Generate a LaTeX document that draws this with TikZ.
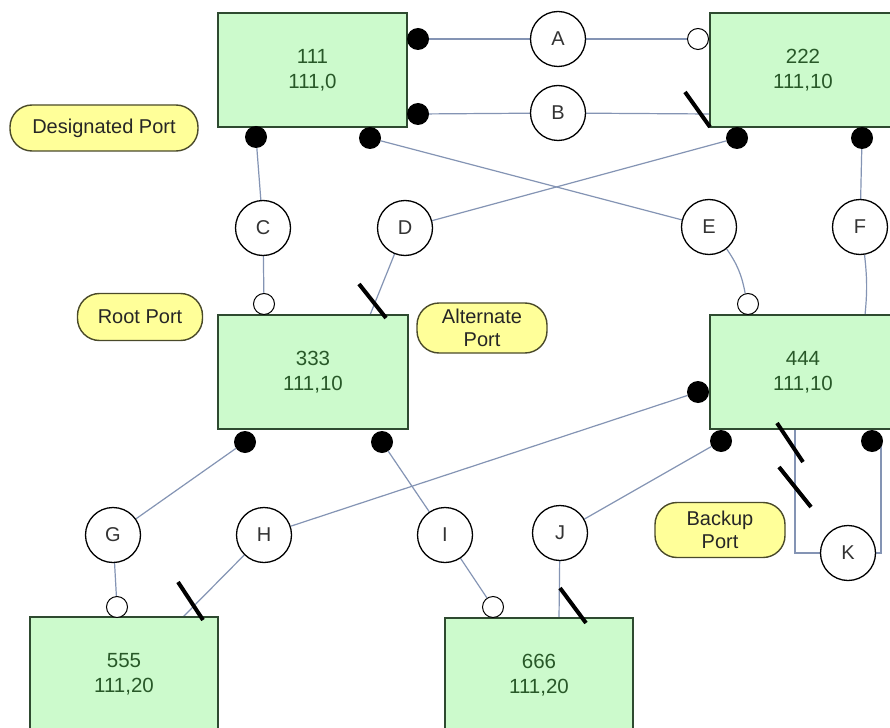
\documentclass[tikz,border=0pt]{standalone}
\usepackage{fontspec}
\setmainfont{Liberation Sans}
\usetikzlibrary{backgrounds}
\definecolor{boxfill}{HTML}{CCFACC}
\definecolor{boxline}{HTML}{2E4A30}
\definecolor{boxtext}{HTML}{285828}
\definecolor{linkc}{HTML}{8494B4}
\definecolor{tagfill}{HTML}{FFFF99}
\definecolor{tagline}{HTML}{4A4A2A}
\tikzset{
  sw/.style={draw=boxline, line width=1.8pt, fill=boxfill, text=boxtext,
    align=center, font=\fontsize{20.5}{25}\selectfont, inner sep=0pt},
  lbl/.style={circle, draw=black, line width=1.3pt, fill=white, minimum size=55pt,
    inner sep=0pt, font=\fontsize{20}{20}\selectfont, text=black!80},
  tag/.style={draw=tagline, line width=1.4pt, fill=tagfill, rounded corners=22pt,
    align=center, font=\fontsize{20}{23}\selectfont, text=black!85, inner sep=0pt},
  fport/.style={circle, fill=black, inner sep=0pt, minimum size=22pt},
  hport/.style={circle, draw=black, line width=1pt, fill=white, inner sep=0pt, minimum size=21pt},
  link/.style={draw=linkc, line width=1.2pt},
  blk/.style={draw=black, line width=4pt}
}
\begin{document}
\begin{tikzpicture}[x=1pt,y=-1pt]
\useasboundingbox (0,0) rectangle (890,727);

% switches
\node[sw, minimum width=189pt, minimum height=114pt] (s111) at (312.5,70) {111\\111,0};
\node[sw, minimum width=186pt, minimum height=114pt] (s222) at (803,70) {222\\111,10};
\node[sw, minimum width=190pt, minimum height=114pt] (s333) at (313,372) {333\\111,10};
\node[sw, minimum width=186pt, minimum height=114pt] (s444) at (803,372) {444\\111,10};
\node[sw, minimum width=188pt, minimum height=114pt] (s555) at (124,674) {555\\111,20};
\node[sw, minimum width=188pt, minimum height=114pt] (s666) at (539,675) {666\\111,20};

% link labels
\node[lbl] (A) at (558,39) {A};
\node[lbl] (B) at (558,113) {B};
\node[lbl] (C) at (263,228) {C};
\node[lbl] (D) at (405,228) {D};
\node[lbl] (E) at (709,227) {E};
\node[lbl] (F) at (860,227) {F};
\node[lbl] (G) at (113,535) {G};
\node[lbl] (H) at (264,535) {H};
\node[lbl] (I) at (445,535) {I};
\node[lbl] (J) at (560,533) {J};
\node[lbl] (K) at (848,553) {K};

% role tags
\node[tag, minimum width=188pt, minimum height=46pt] (tdes) at (104,128) {Designated Port};
\node[tag, minimum width=125pt, minimum height=47pt] (troot) at (140,317) {Root Port};
\node[tag, minimum width=130pt, minimum height=50pt] (talt) at (482,328) {Alternate\\Port};
\node[tag, minimum width=130pt, minimum height=55pt] (tbak) at (720,530) {Backup\\Port};

% ports
\node[fport] (pA1) at (418,39) {};
\node[hport] (pA2) at (698,39) {};
\node[fport] (pB1) at (418,114) {};
\coordinate (pB2) at (710,114);
\node[fport] (pC1) at (256,137) {};
\node[hport] (pC2) at (264,304) {};
\node[fport] (pD1) at (737,138) {};
\coordinate (pD2) at (370,315);
\node[fport] (pE1) at (370,138) {};
\node[hport] (pE2) at (748,304) {};
\node[fport] (pF1) at (862,138) {};
\coordinate (pF2) at (865,315);
\node[fport] (pG1) at (245,442) {};
\node[hport] (pG2) at (117,607) {};
\node[fport] (pH1) at (698,392) {};
\coordinate (pH2) at (183,617);
\node[fport] (pI1) at (382,442) {};
\node[hport] (pI2) at (493,607) {};
\node[fport] (pJ1) at (721,441) {};
\coordinate (pJ2) at (559,618);
\coordinate (pK1) at (795,429);
\node[fport] (pK2) at (872,441) {};
\coordinate (pK3) at (881,446);

% blocked port marks
\draw[blk] (685,92) -- (710,127);
\draw[blk] (359,284) -- (386,318);
\draw[blk] (178,582) -- (203,620);
\draw[blk] (560,588) -- (586,623);
\draw[blk] (777,423) -- (803,462);
\draw[blk] (779,467) -- (811,507);

\begin{scope}[on background layer]
\fill[white] (0,0) rectangle (890,727);
\draw[link] (pA1) -- (A) -- (pA2);
\draw[link] (pB1) -- (B) -- (pB2);
\draw[link] (pC1) -- (C) -- (pC2);
\draw[link] (pD1) -- (D) -- (pD2);
\draw[link] (pE1) -- (E);
\draw[link] (E) to[bend left=12] (pE2);
\draw[link] (pF1) -- (F);
\draw[link] (F) to[bend left=6] (pF2);
\draw[link] (pG1) -- (G) -- (pG2);
\draw[link] (pH1) -- (H) -- (pH2);
\draw[link] (pI1) -- (I) -- (pI2);
\draw[link] (pJ1) -- (J) -- (pJ2);
\draw[link] (pK1) |- (K.west);
\draw[link] (K.east) -| (pK3);
\end{scope}
\end{tikzpicture}
\end{document}
